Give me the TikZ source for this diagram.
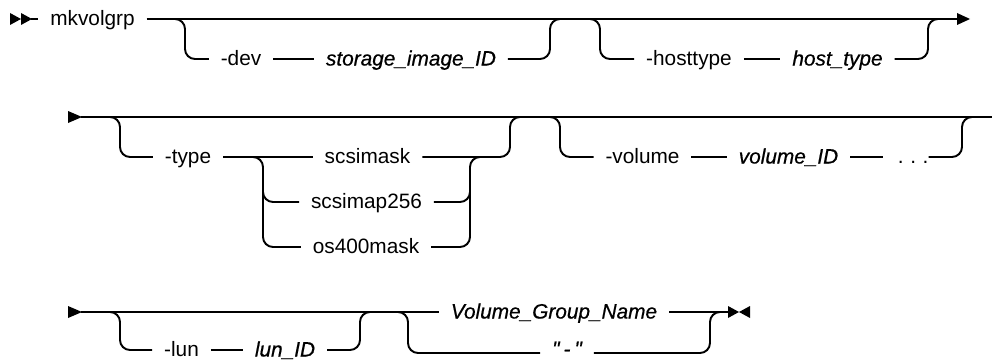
\documentclass[tikz,border=0pt]{standalone}
\usepackage{fontspec}
\setmainfont{Liberation Sans}
\newfontface\varface{Liberation Sans Italic}[FakeBold=0.6]
\begin{document}
\begin{tikzpicture}[x=0.75pt,y=-0.75pt,line width=1.45pt,
  rr/.style={rounded corners=7.5pt},
  kw/.style={font=\fontsize{15.6}{18}\selectfont,inner xsep=9pt,inner ysep=0pt,outer sep=0pt,
             text height=11pt,text depth=1.2pt,anchor=center},
  var/.style={kw,font=\fontsize{15.6}{18}\selectfont\varface},
  tip/.style={fill=black,draw=none}]
\useasboundingbox (0,0) rectangle (992,360);

% ---------------- row 1 ----------------
\fill[tip] (10,13) -- (21,19) -- (10,25) -- cycle;
\fill[tip] (21,13) -- (32,19) -- (21,25) -- cycle;
\coordinate (r1s) at (31,19);
\node[kw] (mk) at (92.5,19) {mkvolgrp};
\node[kw] (dev) at (241,59) {-dev};
\node[var] (sid) at (411,59) {storage\_image\_ID};
\node[kw] (ht) at (689,59) {-hosttype};
\node[var] (hv) at (837.5,59) {host\_type};
\coordinate (r1e) at (958,19);
\coordinate (b1a) at (175,19);
\coordinate (b1v) at (185,59);
\coordinate (b1r) at (550,19);
\coordinate (b1b) at (562,19);
\coordinate (b2a) at (590,19);
\coordinate (b2v) at (600,59);
\coordinate (b2r) at (928,19);
\coordinate (b2b) at (940,19);

\draw (r1s) -- (mk.west);
\draw (mk.east) -- (r1e);
\fill[tip] (957,13) -- (970,19) -- (957,25) -- cycle;
\draw[rr] (b1a) -| (b1v) -- (dev.west);
\draw (dev.east) -- (sid.west);
\draw[rr] (sid.east) -| (b1r) -- (b1b);
\draw[rr] (b2a) -| (b2v) -- (ht.west);
\draw (ht.east) -- (hv.west);
\draw[rr] (hv.east) -| (b2r) -- (b2b);

% ---------------- row 2 ----------------
\fill[tip] (68,111) -- (82,117) -- (68,123) -- cycle;
\coordinate (r2s) at (81,117);
\coordinate (r2e) at (992,117);
\draw (r2s) -- (r2e);
\node[kw] (ty) at (188,157) {-type};
\node[kw] (sm) at (367.5,157) {scsimask};
\node[kw] (sp) at (366.5,202) {scsimap256};
\node[kw] (os) at (366,247) {os400mask};
\coordinate (c1a) at (110,117);
\coordinate (c1v) at (120,157);
\coordinate (c2a) at (253,157);
\coordinate (c2v) at (263,247);
\coordinate (c2m) at (263,188);
\coordinate (c2mv) at (263,202);
\coordinate (c3v) at (470,157);
\coordinate (c3b) at (482,157);
\coordinate (c3m) at (470,202);
\coordinate (c3mt) at (470,188);
\coordinate (c4v) at (510,117);
\coordinate (c4b) at (522,117);
\draw[rr] (c1a) -| (c1v) -- (ty.west);
\draw (ty.east) -- (sm.west);
\draw[rr] (c2a) -| (c2v) -- (os.west);
\draw[rr] (c2m) -- (c2mv) -- (sp.west);
\draw[rr] (os.east) -| (c3v) -- (c3b);
\draw[rr] (sp.east) -- (c3m) -- (c3mt);
\draw[rr] (sm.east) -| (c4v) -- (c4b);

\node[kw] (vol) at (642.5,157) {-volume};
\node[var] (vid) at (788.5,157) {volume\_ID};
\node[kw,inner xsep=0pt,anchor=east] (dots) at (928.5,157) {\hspace*{11pt}.\hspace{5pt}.\hspace{5pt}.};
\coordinate (v1a) at (550,117);
\coordinate (v1v) at (560,157);
\coordinate (v2v) at (962,117);
\coordinate (v2b) at (975,117);
\draw[rr] (v1a) -| (v1v) -- (vol.west);
\draw (vol.east) -- (vid.west);
\draw (vid.east) -- (dots.west);
\draw[rr] (dots.east) -| (v2v) -- (v2b);

% ---------------- row 3 ----------------
\fill[tip] (68,306) -- (82,312) -- (68,318) -- cycle;
\coordinate (r3s) at (81,312);
\node[kw] (lun) at (181.5,350) {-lun};
\node[var] (lid) at (285,350) {lun\_ID};
\node[var] (vgn) at (554,312) {Volume\_Group\_Name};
\node[var,text depth=0pt,anchor=base] (q) at (567,356) {"\hspace{3pt}-\hspace{3pt}"};
\coordinate (l1a) at (110,312);
\coordinate (l1v) at (120,350);
\coordinate (l2v) at (360,312);
\coordinate (l2b) at (372,312);
\coordinate (g1a) at (396,312);
\coordinate (g1v) at (408,353);
\coordinate (g2v) at (710,312);
\coordinate (g2b) at (722,312);
\coordinate (r3e) at (729,312);
\draw (r3s) -- (vgn.west);
\draw[rr] (l1a) -| (l1v) -- (lun.west);
\draw (lun.east) -- (lid.west);
\draw[rr] (lid.east) -| (l2v) -- (l2b);
\draw[rr] (g1a) -| (g1v) -- (q.west |- g1v);
\draw[rr] (q.east |- g1v) -| (g2v) -- (g2b);
\draw (vgn.east) -- (r3e);
\fill[tip] (728,306) -- (739,312) -- (728,318) -- cycle;
\fill[tip] (750,306) -- (739,312) -- (750,318) -- cycle;
\end{tikzpicture}
\end{document}
